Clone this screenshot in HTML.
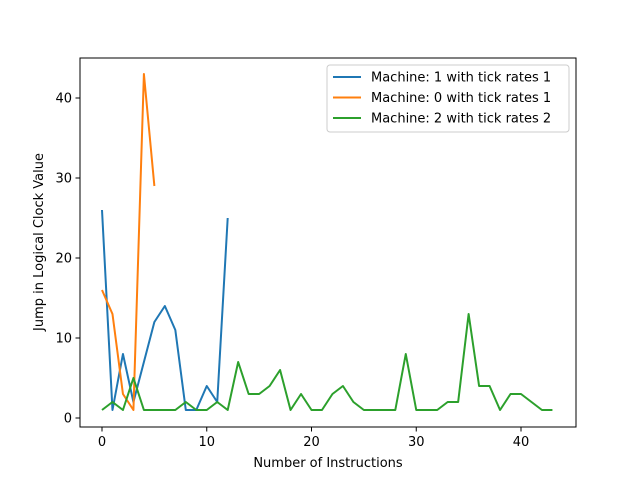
<!DOCTYPE html>
<html><head><meta charset="utf-8"><style>
body{margin:0;background:#fff}
svg text{font-family:"DejaVu Sans","Liberation Sans",sans-serif;fill:#000}
</style></head><body>
<svg id="chart" width="640" height="480"></svg>
<script>
const blueVals=[26,1,8,2,7,12,14,11,1,1,4,2,25];
const orangeVals=[16,13,3,1,43,29];
const greenVals=[1,2,1,5,1,1,1,1,2,1,1,2,1,7,3,3,4,6,1,3,1,1,3,4,2,1,1,1,1,8,1,1,1,2,2,13,4,4,1,3,3,2,1,1];
const xTicks=[0,10,20,30,40];
const yTicks=[0,10,20,30,40];
const seriesNames=["Machine: 1 with tick rates 1","Machine: 0 with tick rates 1","Machine: 2 with tick rates 2"];
const colors=["#1f77b4","#ff7f0e","#2ca02c"];
const L=80,R=576,T=58,B=427;
const xS=v=>102+v*(521-102)/40;
const yS=v=>418-v*8;
const svg=document.getElementById('chart');
const NS="http://www.w3.org/2000/svg";
function mk(t,a){const e=document.createElementNS(NS,t);for(const k in a)e.setAttribute(k,a[k]);svg.appendChild(e);return e;}
[blueVals,orangeVals,greenVals].forEach((vals,i)=>{
  const p=mk('polyline',{points:vals.map((v,j)=>xS(j)+','+yS(v)).join(' '),fill:'none',stroke:colors[i],'stroke-width':2,'stroke-linejoin':'round'});
  
  
});
const fr=mk('rect',{x:L,y:T,width:R-L,height:B-T,fill:'none',stroke:'#000','stroke-width':1});


xTicks.forEach(v=>{
  mk('line',{x1:xS(v),x2:xS(v),y1:B,y2:B+4.5,stroke:'#000','stroke-width':1});
  const t=mk('text',{x:xS(v),y:B+19,'font-size':13,'text-anchor':'middle'});t.textContent=v;
  
  
});
yTicks.forEach(v=>{
  mk('line',{x1:L,x2:L-4.5,y1:yS(v),y2:yS(v),stroke:'#000','stroke-width':1});
  const t=mk('text',{x:L-8,y:yS(v)+4.5,'font-size':13,'text-anchor':'end'});t.textContent=v;
  
  
});
const xt=mk('text',{x:328,y:467,'font-size':13,'text-anchor':'middle'});xt.textContent="Number of Instructions";


const yt=mk('text',{x:0,y:0,'font-size':13,'text-anchor':'middle',transform:'translate(43,242) rotate(-90)'});yt.textContent="Jump in Logical Clock Value";


const lg=mk('rect',{x:327,y:65,width:242,height:67,fill:'#fff',stroke:'#ccc','stroke-width':1,rx:3});


seriesNames.forEach((n,i)=>{
  const y=77+i*20.5;
  mk('line',{x1:333,x2:361,y1:y,y2:y,stroke:colors[i],'stroke-width':2});
  const t=mk('text',{x:371,y:y+4.5,'font-size':13});t.textContent=n;
  
  
});
</script>
</body></html>
